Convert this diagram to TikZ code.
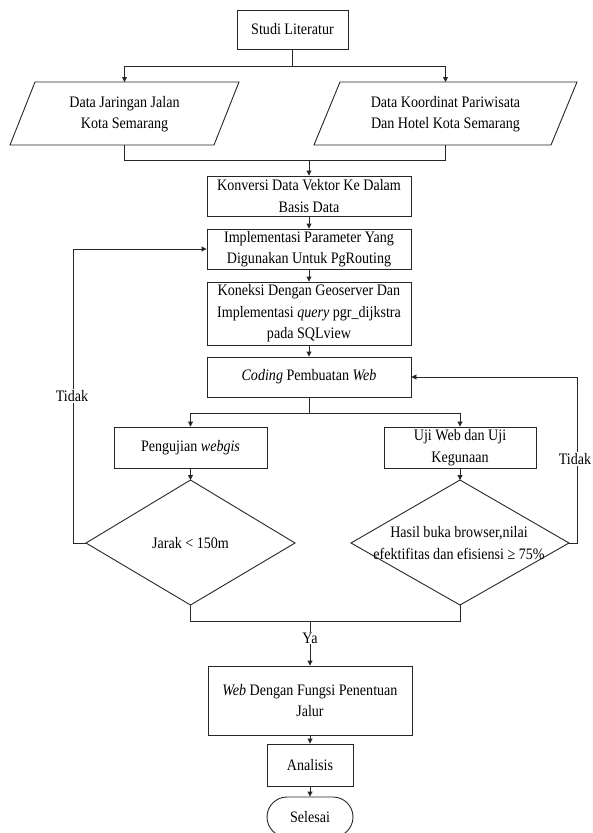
\documentclass[tikz,border=0pt]{standalone}
\usepackage{fontspec}
\setmainfont{Liberation Serif}[FakeStretch=0.88]
\usetikzlibrary{arrows.meta}
\begin{document}
\begin{tikzpicture}[x=1pt,y=-1pt,
  line/.style={draw=black!85, line width=0.9pt},
  arr/.style={line, -{Triangle[length=5pt,width=5pt]}},
  fnt/.style={font=\fontsize{16}{21.5}\selectfont},
  box/.style={draw=black!85, line width=0.9pt, fill=white, align=center, inner sep=0pt, fnt},
  txt/.style={align=center, inner sep=0pt, fnt},
  lbl/.style={fill=white, inner sep=1pt, fnt}]
\useasboundingbox (0,0) rectangle (593,833);

% start
\node[box, minimum width=111pt, minimum height=39pt] (studi) at (292.5,29.5) {Studi Literatur};

% parallelograms
\coordinate (pLtop) at (124.5,82);
\coordinate (pLbot) at (124.5,145);
\coordinate (pRtop) at (445.5,82);
\coordinate (pRbot) at (445.5,145);
\draw[line] (35,82) -- (239,82) -- (214,145) -- (10,145) -- cycle;
\draw[line] (340,82) -- (577,82) -- (551,145) -- (314,145) -- cycle;
\node[txt] (pL) at (124.5,114) {Data Jaringan Jalan\\Kota Semarang};
\node[txt] (pR) at (445.5,114) {Data Koordinat Pariwisata\\Dan Hotel Kota Semarang};

\coordinate (split1) at (292.5,66);
\draw[arr] (studi.south) -- (split1) -| (pLtop);
\draw[arr] (split1) -| (pRtop);

% process chain
\node[box, minimum width=204pt, minimum height=40pt] (konv) at (309,196) {Konversi Data Vektor Ke Dalam\\Basis Data};
\node[box, minimum width=204pt, minimum height=40pt] (impl) at (309,249) {Implementasi Parameter Yang\\Digunakan Untuk PgRouting};
\node[box, minimum width=204pt, minimum height=63pt] (kon) at (309,313.5) {Koneksi Dengan Geoserver Dan\\Implementasi \textit{query} pgr\_dijkstra\\pada SQLview};
\node[box, minimum width=204pt, minimum height=40pt] (cod) at (309,377) {\textit{Coding} Pembuatan \textit{Web}};

\coordinate (join1) at (309,160);
\draw[line] (pLbot) |- (join1);
\draw[line] (pRbot) |- (join1);
\draw[arr] (join1) -- (konv.north);
\draw[arr] (konv) -- (impl);
\draw[arr] (impl) -- (kon);
\draw[arr] (kon) -- (cod);

% tests
\node[box, minimum width=153pt, minimum height=41pt] (peng) at (190.5,447.5) {Pengujian \textit{webgis}};
\node[box, minimum width=152pt, minimum height=41pt] (uji) at (460,447.5) {Uji Web dan Uji\\Kegunaan};
\coordinate (split2) at (309,413);
\draw[line] (cod.south) -- (split2);
\draw[arr] (split2) -| (peng.north);
\draw[arr] (split2) -| (uji.north);

% decisions
\coordinate (dLt) at (190.5,480);
\coordinate (dLl) at (86,543);
\coordinate (dLr) at (295,543);
\coordinate (dLb) at (190.5,605);
\coordinate (dRt) at (460,480);
\coordinate (dRl) at (351,543);
\coordinate (dRr) at (569,543);
\coordinate (dRb) at (460,605);
\draw[line] (dLt) -- (dLr) -- (dLb) -- (dLl) -- cycle;
\draw[line] (dRt) -- (dRr) -- (dRb) -- (dRl) -- cycle;
\node[txt] (dL) at (190.5,543) {Jarak < 150m};
\node[txt] (dR) at (459,543) {Hasil buka browser,nilai\\efektifitas dan efisiensi ≥ 75\%};
\draw[arr] (peng.south) -- (dLt);
\draw[arr] (uji.south) -- (dRt);

% loops
\draw[arr] (dLl) -- ++(-13,0) |- (impl.west);
\draw[arr] (dRr) -- ++(8,0) |- (cod.east);
\node[lbl] (tidak1) at (72,396) {Tidak};
\node[lbl] (tidak2) at (575,459) {Tidak};

% end
\coordinate (join2) at (310,621);
\draw[line] (dLb) |- (join2);
\draw[line] (dRb) |- (join2);
\node[box, minimum width=204pt, minimum height=69pt] (web) at (310,700.5) {\textit{Web} Dengan Fungsi Penentuan\\Jalur};
\draw[arr] (join2) -- (web.north);
\node[lbl] (ya) at (310,638) {Ya};
\node[box, minimum width=86pt, minimum height=42pt] (ana) at (310,765) {Analisis};
\node[box, minimum width=86pt, minimum height=40pt, rounded corners=20pt] (sel) at (310,817) {Selesai};
\draw[arr] (web) -- (ana);
\draw[arr] (ana) -- (sel);
\end{tikzpicture}
\end{document}
